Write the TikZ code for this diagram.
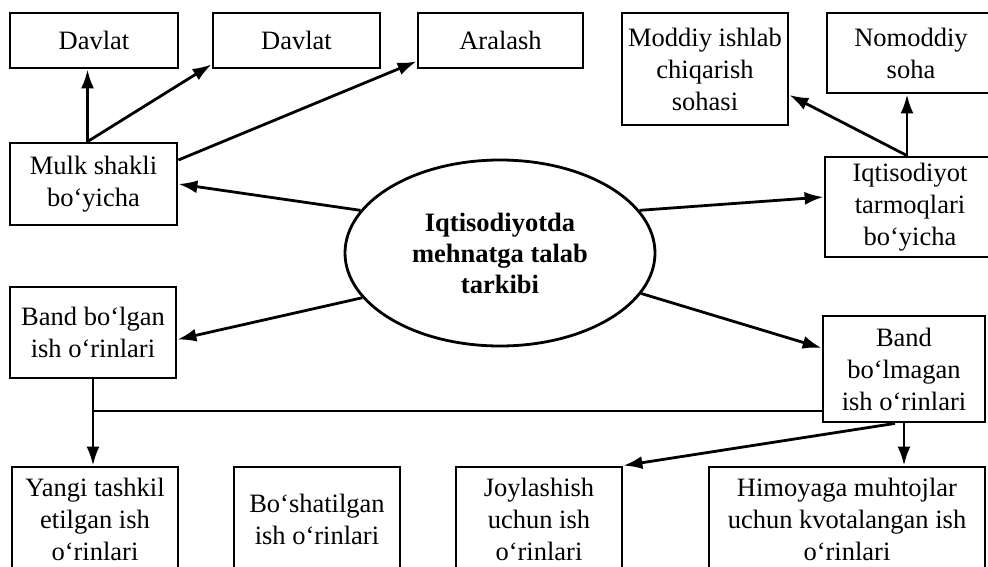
\documentclass[tikz,border=0pt]{standalone}
\usepackage{fontspec}
\setmainfont{Liberation Serif}
\usetikzlibrary{arrows.meta,shapes.geometric}
\tikzset{
  box/.style={draw, line width=2.8pt, align=center, inner sep=2pt, fill=white,
    font=\fontsize{26.5}{32}\selectfont},
  hub/.style={draw, ellipse, line width=2.8pt, align=center, inner sep=0pt,
    minimum width=310pt, minimum height=186pt, font=\fontsize{26.5}{31}\selectfont\bfseries},
  arr/.style={line width=2.8pt, -{Latex[length=19pt,width=13pt]}},
  ln/.style={line width=2.8pt}
}
\begin{document}
\begin{tikzpicture}[x=1pt,y=-1pt]
\useasboundingbox (0,0) rectangle (988,567);
\clip (0,0) rectangle (988,567);
% top row
\node[box, minimum width=168pt, minimum height=55pt] (d1) at (94,40.5) {Davlat};
\node[box, minimum width=167pt, minimum height=55pt] (d2) at (296.5,40.5) {Davlat};
\node[box, minimum width=165pt, minimum height=55pt] (ar) at (500.5,40.5) {Aralash};
\node[box, minimum width=166pt, minimum height=112pt] (mod) at (705,69) {Moddiy ishlab\\chiqarish\\sohasi};
\node[box, minimum width=168pt, minimum height=80pt] (nom) at (911,53) {Nomoddiy\\soha};
% middle
\node[box, minimum width=167pt, minimum height=82pt] (mulk) at (93.5,184) {Mulk shakli\\bo‘yicha};
\node[box, minimum width=170pt, minimum height=100pt] (iqt) at (910,207) {Iqtisodiyot\\tarmoqlari\\bo‘yicha};
\node[hub] (el) at (500,253) {Iqtisodiyotda\\mehnatga talab\\tarkibi};
\node[box, minimum width=166pt, minimum height=91pt] (bg) at (93,332.5) {Band bo‘lgan\\ish o‘rinlari};
\node[box, minimum width=162pt, minimum height=106pt] (bm) at (904,369) {Band\\bo‘lmagan\\ish o‘rinlari};
% bottom row
\node[box, minimum width=166pt, minimum height=105pt] (yangi) at (95,519.5) {Yangi tashkil\\etilgan ish\\o‘rinlari};
\node[box, minimum width=166pt, minimum height=105pt] (bosh) at (317,519.5) {Bo‘shatilgan\\ish o‘rinlari};
\node[box, minimum width=166pt, minimum height=105pt] (joy) at (539,519.5) {Joylashish\\uchun ish\\o‘rinlari};
\node[box, minimum width=276pt, minimum height=105pt] (him) at (847,519.5) {Himoyaga muhtojlar\\uchun kvotalangan ish\\o‘rinlari};
% connectors
\draw[arr] ([xshift=-6pt]mulk.north) -- ([xshift=-6pt]mulk.north |- d1.south);
\draw[arr] ([xshift=-6pt]mulk.north) -- ([yshift=5pt]d2.south west);
\draw[arr] ([yshift=24pt]mulk.east) -- ([yshift=8pt]ar.south west);
\draw[arr] (el.163) -- (mulk.east);
\draw[arr] (el.198) -- ([yshift=-7pt]bg.east);
\draw[arr] (el.17) -- ([yshift=10pt]iqt.west);
\draw[arr] (el.344) -- ([yshift=21pt]bm.west);
\draw[arr] ([xshift=-3pt]iqt.north) -- ([xshift=-3pt]iqt.north |- nom.south);
\draw[arr] ([xshift=-3pt]iqt.north) -- ([yshift=-26pt]mod.east);
\draw[arr] (bg.south) -- (bg.south |- yangi.north);
\coordinate (hj) at ([yshift=-42pt]bm.west);
\draw[ln] (hj) -- (hj -| bg.south);
\draw[arr] ([xshift=-9pt]bm.south) -- (joy.north east);
\draw[arr] (bm.south) -- (bm.south |- him.north);
\end{tikzpicture}
\end{document}
